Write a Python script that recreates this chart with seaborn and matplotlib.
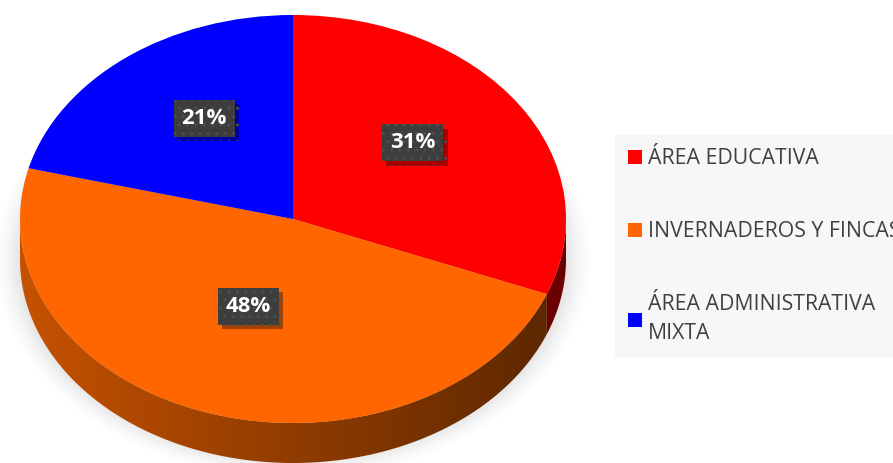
import numpy as np
import matplotlib.pyplot as plt
import seaborn as sns
from matplotlib.patches import Polygon, Patch
from matplotlib.colors import LinearSegmentedColormap
import matplotlib.patheffects as pe

categories = ["ÁREA EDUCATIVA", "INVERNADEROS Y FINCAS", "ÁREA ADMINISTRATIVA\nMIXTA"]
shares = [31, 48, 21]
colors = ["#ff0000", "#ff6600", "#0000ff"]
wall_colors = [("#b00000", "#6a0000"), ("#c65200", "#5a2600"), ("#0000a0", "#000050")]

sns.set_theme(style="white")
plt.rcParams["font.family"] = ["Open Sans", "DejaVu Sans"]

W, H = 893, 463
fig = plt.figure(figsize=(W / 100, H / 100), dpi=100)
ax = fig.add_axes([0, 0, 1, 1])

# pie in unit coords: centre (293, 219) px, radii 273 x 204 px
cx, cy, rx, ry = 293, 219, 273, 204
xlim = (-cx / rx, (W - cx) / rx)
ylim = ((cy - H) / ry, cy / ry)
depth = 40 / ry

# soft shadow under the pie
gx = np.linspace(xlim[0], xlim[1], 600)
gy = np.linspace(ylim[1], ylim[0], 320)
X, Y = np.meshgrid(gx, gy)
d = np.sqrt((X / 1.1) ** 2 + ((Y + 0.2) / 1.08) ** 2)
alpha = np.clip((1.0 - d) / 0.15, 0, 1) ** 1.5 * 0.45
shadow = np.zeros(X.shape + (4,))
shadow[..., :3] = 0.5
shadow[..., 3] = alpha
ax.imshow(shadow, extent=(xlim[0], xlim[1], ylim[0], ylim[1]), aspect="auto", zorder=0,
          interpolation="bilinear")

# side wall of the 3D pie
cum = np.concatenate([[0], np.cumsum(shares)]) / sum(shares)
for i in range(len(shares)):
    a0 = 90 - 360 * cum[i]
    a1 = 90 - 360 * cum[i + 1]
    lo, hi = max(a1, -180), min(a0, 0)
    if hi <= lo:
        continue
    phi = np.radians(np.linspace(lo, hi, 120))
    top = np.column_stack([np.cos(phi), np.sin(phi)])
    bot = np.column_stack([np.cos(phi), np.sin(phi) - depth])[::-1]
    poly = Polygon(np.vstack([top, bot]), closed=True, fc="none", ec="none", zorder=1)
    ax.add_patch(poly)
    cmap = LinearSegmentedColormap.from_list("wall", wall_colors[i])
    grad = np.linspace(0, 1, 256).reshape(1, -1)
    im = ax.imshow(grad, cmap=cmap, extent=(-1, 1, -1 - depth, 0.3), aspect="auto", zorder=1)
    im.set_clip_path(poly)

wedges, texts, autotexts = ax.pie(
    shares, colors=colors, startangle=90, counterclock=False, radius=1, center=(0, 0),
    autopct="%1.0f%%", pctdistance=0.53, wedgeprops=dict(linewidth=0, zorder=2),
    textprops=dict(color="white", fontsize=16, fontweight="bold"),
)
for t in autotexts:
    x, y = t.get_position()
    t.set_position((x, y + 0.075))
    t.set_zorder(5)
    t.set_bbox(dict(boxstyle="square,pad=0.36", fc="#3d3d3d", ec="#4e4e4e", lw=0, hatch=".."))
    t.get_bbox_patch().set_path_effects([
        pe.SimplePatchShadow(offset=(3, -3), shadow_rgbFace="black", alpha=0.35), pe.Normal()])

ax.set_aspect("auto")
ax.set_xlim(*xlim)
ax.set_ylim(*ylim)
ax.axis("off")

handles = [Patch(facecolor=c, edgecolor="none") for c in colors]
leg = ax.legend(
    handles, categories, loc="upper left", bbox_to_anchor=(615 / W, 1 - 135 / H),
    borderaxespad=0, frameon=True, facecolor="#f7f7f7", edgecolor="none", framealpha=1,
    fancybox=False, fontsize=15.3, labelspacing=2.45, handlelength=0.65, handleheight=0.65,
    handletextpad=0.3, borderpad=0.62, labelcolor="#404040",
)
leg.get_frame().set_linewidth(0)
for t in leg.get_texts():
    t.set_linespacing(1.5)

fig.savefig("out.png", dpi=100)
